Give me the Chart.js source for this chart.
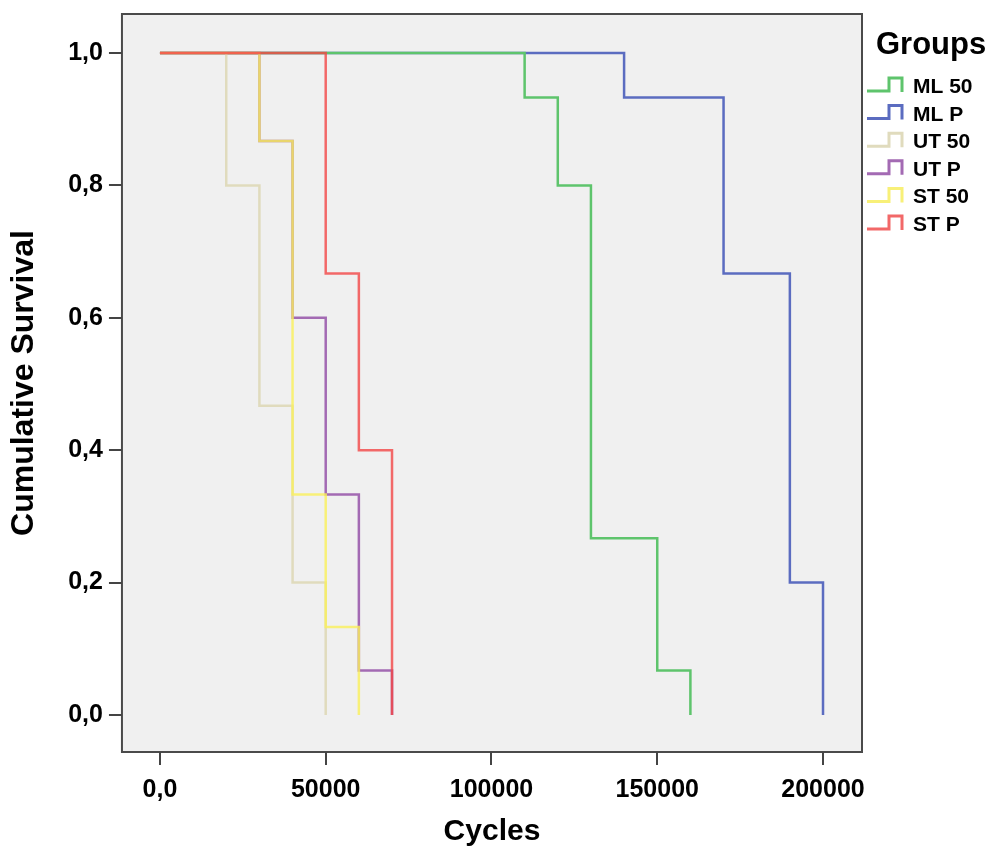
<!DOCTYPE html>
<html>
<head>
<meta charset="utf-8">
<script src="https://cdn.jsdelivr.net/npm/chart.js@4.4.0/dist/chart.umd.min.js"></script>
<style>
  html, body { margin: 0; padding: 0; background: #fff; }
  canvas { display: block; }
</style>
</head>
<body>
<canvas id="survChart" width="992" height="848"></canvas>
<script>
const FONT = '"Liberation Sans", Arial, sans-serif';

const groups = ['ML 50', 'ML P', 'UT 50', 'UT P', 'ST 50', 'ST P'];
const lineColors = ['#5ec46c', '#5b6cc0', '#e0dbbd', 'rgba(144,72,164,0.8)', 'rgba(250,240,90,0.8)', 'rgba(242,70,70,0.8)'];
const keyColors = ['#5ec46c', '#5b6cc0', '#e0dbbd', '#a36ab3', '#f8f078', '#f26868'];
const drawOrder = [4, 5, 3, 2, 1, 0];

// cycles where survival drops, and the survival after each drop
const ml50Cycles = [0, 110000, 120000, 130000, 150000, 160000];
const ml50Surv   = [1.0, 0.933, 0.8, 0.267, 0.067, 0.0];
const mlPCycles  = [0, 140000, 170000, 190000, 200000];
const mlPSurv    = [1.0, 0.933, 0.667, 0.2, 0.0];
const ut50Cycles = [0, 20000, 30000, 40000, 50000];
const ut50Surv   = [1.0, 0.8, 0.467, 0.2, 0.0];
const utPCycles  = [0, 30000, 40000, 50000, 60000, 70000];
const utPSurv    = [1.0, 0.867, 0.6, 0.333, 0.067, 0.0];
const st50Cycles = [0, 30000, 40000, 50000, 60000];
const st50Surv   = [1.0, 0.867, 0.333, 0.133, 0.0];
const stPCycles  = [0, 50000, 60000, 70000];
const stPSurv    = [1.0, 0.667, 0.4, 0.0];

const xTicks = [0, 50000, 100000, 150000, 200000];
const xTickLabels = ['0,0', '50000', '100000', '150000', '200000'];
const yTicks = [0, 0.2, 0.4, 0.6, 0.8, 1.0];
const yTickLabels = ['0,0', '0,2', '0,4', '0,6', '0,8', '1,0'];

const allCycles = [ml50Cycles, mlPCycles, ut50Cycles, utPCycles, st50Cycles, stPCycles];
const allSurv = [ml50Surv, mlPSurv, ut50Surv, utPSurv, st50Surv, stPSurv];

function toPoints(xs, ys) {
  return xs.map((x, i) => ({ x: x, y: ys[i] }));
}

const datasets = groups.map((g, i) => ({
  label: g,
  data: toPoints(allCycles[i], allSurv[i]),
  borderColor: lineColors[i],
  borderWidth: 2.5,
  pointRadius: 0,
  stepped: 'before',
  fill: false,
  order: drawOrder[i]
}));

// grey plot area with a dark frame
const plotFrame = {
  id: 'plotFrame',
  beforeDraw(chart) {
    const { ctx, chartArea: a } = chart;
    ctx.save();
    ctx.fillStyle = '#fff';
    ctx.fillRect(0, 0, chart.width, chart.height);
    ctx.fillStyle = '#f0f0f0';
    ctx.fillRect(a.left, a.top, a.right - a.left, a.bottom - a.top);
    ctx.strokeStyle = '#4a4a4a';
    ctx.lineWidth = 2;
    ctx.strokeRect(a.left, a.top, a.right - a.left, a.bottom - a.top);
    ctx.restore();
  }
};

// SPSS style "Groups" key with step symbols
const groupKey = {
  id: 'groupKey',
  afterDraw(chart) {
    const ctx = chart.ctx;
    const x0 = chart.chartArea.right + 5;
    ctx.save();
    ctx.fillStyle = '#000';
    ctx.textBaseline = 'alphabetic';
    ctx.font = 'bold 31px ' + FONT;
    ctx.fillText('Groups', x0 + 9, 54);
    ctx.font = 'bold 21px ' + FONT;
    groups.forEach((g, i) => {
      const y = 86 + i * 27.6;
      ctx.strokeStyle = keyColors[i];
      ctx.lineWidth = 3;
      ctx.beginPath();
      ctx.moveTo(x0, y + 5);
      ctx.lineTo(x0 + 22, y + 5);
      ctx.lineTo(x0 + 22, y - 8);
      ctx.lineTo(x0 + 35, y - 8);
      ctx.lineTo(x0 + 35, y + 6);
      ctx.stroke();
      ctx.fillText(g, x0 + 46, y + 7);
    });
    ctx.restore();
  }
};

const ctx = document.getElementById('survChart').getContext('2d');
new Chart(ctx, {
  type: 'line',
  data: { datasets: datasets },
  options: {
    responsive: false,
    animation: false,
    layout: { padding: { top: 14, right: 130, left: 0, bottom: 0 } },
    plugins: {
      legend: { display: false },
      tooltip: { enabled: false }
    },
    scales: {
      x: {
        type: 'linear',
        min: -11460,
        max: 211760,
        afterBuildTicks: (scale) => { scale.ticks = xTicks.map(v => ({ value: v })); },
        ticks: {
          padding: 10,
          color: '#000',
          font: { family: FONT, size: 25, weight: 'bold' },
          callback: (v) => xTickLabels[xTicks.indexOf(v)]
        },
        grid: { drawOnChartArea: false, drawTicks: true, tickLength: 13, color: '#444', lineWidth: 2 },
        border: { display: false },
        title: {
          display: true,
          text: 'Cycles',
          color: '#000',
          font: { family: FONT, size: 30, weight: 'bold', lineHeight: 1.1 },
          padding: { top: 0, bottom: 0 }
        }
      },
      y: {
        min: -0.056,
        max: 1.059,
        afterBuildTicks: (scale) => { scale.ticks = yTicks.map(v => ({ value: v })); },
        ticks: {
          padding: 6,
          color: '#000',
          font: { family: FONT, size: 25, weight: 'bold', lineHeight: 0.6 },
          callback: (v) => yTickLabels[yTicks.indexOf(v)]
        },
        grid: { drawOnChartArea: false, drawTicks: true, tickLength: 13, color: '#444', lineWidth: 2 },
        border: { display: false },
        title: {
          display: true,
          text: 'Cumulative Survival',
          color: '#000',
          font: { family: FONT, size: 32, weight: 'bold', lineHeight: 1.1 },
          padding: { top: 7, bottom: 20 }
        }
      }
    }
  },
  plugins: [plotFrame, groupKey]
});
</script>
</body>
</html>
